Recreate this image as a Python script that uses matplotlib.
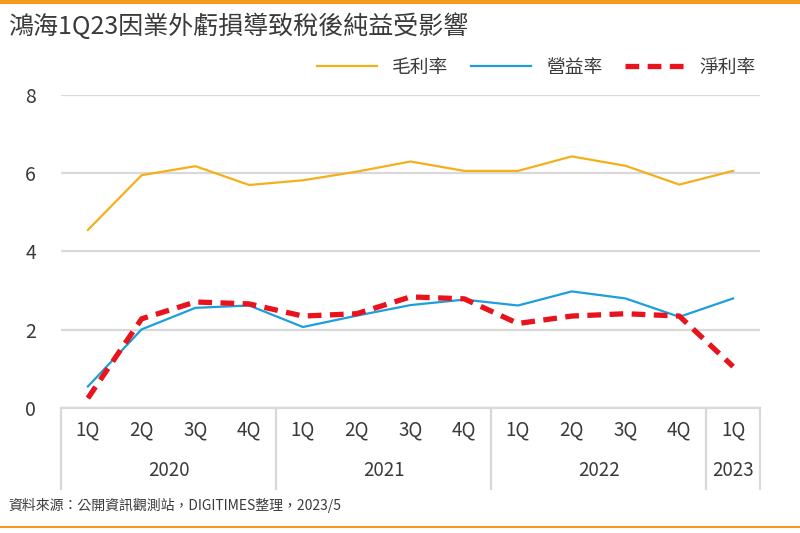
import matplotlib.pyplot as plt
from matplotlib.lines import Line2D
import matplotlib.transforms as mtransforms

plt.rcParams['font.family'] = ['Noto Sans CJK TC', 'DejaVu Sans']

# data (%)
quarters = ['1Q', '2Q', '3Q', '4Q', '1Q', '2Q', '3Q', '4Q',
            '1Q', '2Q', '3Q', '4Q', '1Q']
years = ['2020', '2021', '2022', '2023']
year_len = [4, 4, 4, 1]
gross = [4.55, 5.95, 6.18, 5.70, 5.82, 6.04, 6.30, 6.06, 6.06, 6.43, 6.19, 5.71, 6.06]
oper = [0.55, 2.01, 2.56, 2.62, 2.07, 2.36, 2.63, 2.77, 2.62, 2.98, 2.80, 2.33, 2.80]
net = [0.25, 2.28, 2.71, 2.66, 2.35, 2.41, 2.84, 2.79, 2.16, 2.35, 2.41, 2.35, 1.06]

c_gross = '#F4B01A'
c_oper = '#1C9FDC'
c_net = '#E8131C'
c_grid = '#D9D9D9'
c_text = '#3A3A3A'
c_orange = '#F39A1E'

fig = plt.figure(figsize=(8, 5.33), dpi=100)
ax = fig.add_axes([0.07625, 0.2345, 0.8737, 0.5873])

x = list(range(len(quarters)))
ax.plot(x, gross, color=c_gross, lw=1.6, zorder=3)
ax.plot(x, oper, color=c_oper, lw=1.6, zorder=3)
ax.plot(x, net, color=c_net, lw=3.8, dashes=(2.6, 1.6), zorder=4)

ax.set_xlim(-0.5, len(quarters) - 0.5)
ax.set_ylim(0, 8)
ax.set_yticks([0, 2, 4, 6, 8])
ax.grid(axis='y', color=c_grid, lw=1.6)
ax.set_axisbelow(True)
for s in ['top', 'right', 'left']:
    ax.spines[s].set_visible(False)
ax.spines['bottom'].set_color(c_grid)
ax.spines['bottom'].set_linewidth(1.6)
ax.tick_params(axis='y', length=0, pad=18, labelsize=14, labelcolor=c_text)
ax.tick_params(axis='x', length=0, pad=8, labelsize=13.5, labelcolor=c_text)
ax.set_xticks(x)
ax.set_xticklabels(quarters)

# year group labels and separators below the axis
trans = mtransforms.blended_transform_factory(ax.transData, ax.transAxes)
start = -0.5
bounds = [start]
for name, n in zip(years, year_len):
    ax.text(start + n / 2, -0.2, name, transform=trans, ha='center', va='center',
            fontsize=13.5, color=c_text)
    start += n
    bounds.append(start)
for b in bounds:
    ax.plot([b, b], [0, -0.26], transform=trans, color=c_grid, lw=1.6, clip_on=False)

# legend
handles = [Line2D([], [], color=c_gross, lw=1.6),
           Line2D([], [], color=c_oper, lw=1.6),
           Line2D([], [], color=c_net, lw=3.8, dashes=(2.6, 1.6))]
fig.legend(handles, ['毛利率', '營益率', '淨利率'], loc='center right',
           bbox_to_anchor=(0.966, 0.874), ncol=3, frameon=False, fontsize=13.5,
           handlelength=3.2, handletextpad=0.8, columnspacing=1.2, labelcolor=c_text)

fig.text(0.01, 0.950, '鴻海1Q23因業外虧損導致稅後純益受影響', fontsize=18,
         color=c_text, va='center', ha='left', weight='medium')
fig.text(0.01, 0.052, '資料來源：公開資訊觀測站，DIGITIMES整理，2023/5', fontsize=10,
         color=c_text, va='center', ha='left')

fig.add_artist(Line2D([0, 1], [0.997, 0.997], color=c_orange, lw=3, transform=fig.transFigure))
fig.add_artist(Line2D([0, 1], [0.012, 0.012], color=c_orange, lw=1.5, transform=fig.transFigure))

fig.savefig('out.png', dpi=100)
